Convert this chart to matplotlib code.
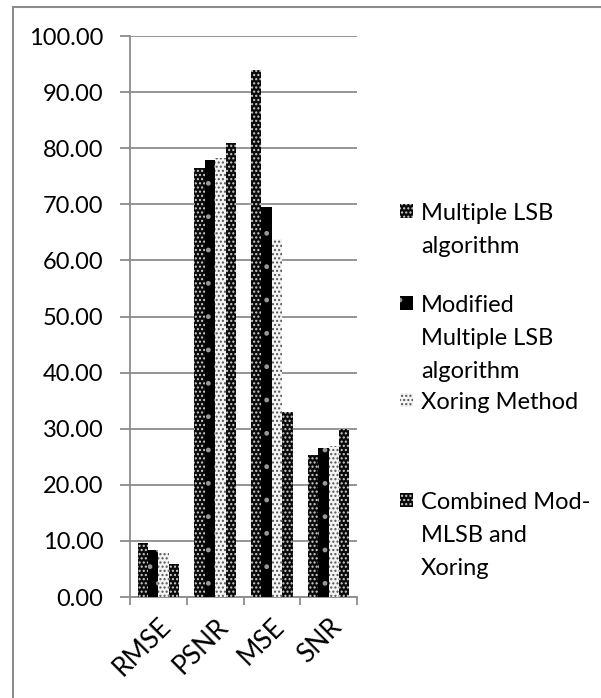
import numpy as np
import matplotlib
matplotlib.use("Agg")
import matplotlib.pyplot as plt
from matplotlib.patches import Rectangle

plt.rcParams['font.family'] = ['Lato', 'DejaVu Sans']
plt.rcParams['hatch.linewidth'] = 1.0

# data
metrics = ['RMSE', 'PSNR', 'MSE', 'SNR']
multiple_lsb = [9.7, 76.5, 93.9, 25.3]
modified_mlsb = [8.3, 77.9, 69.6, 26.5]
xoring = [7.9, 78.3, 63.9, 27.0]
combined = [5.8, 81.0, 32.9, 29.9]
series_labels = ['Multiple LSB\nalgorithm',
                 'Modified\nMultiple LSB\nalgorithm',
                 'Xoring Method',
                 'Combined Mod-\nMLSB and\nXoring']
yticks = np.arange(0, 101, 10)

# fill / hatch per series (look of the Excel patterns)
styles = [
    dict(facecolor='#0a0a0a', edgecolor='#d0d0d0', hatch='....'),
    dict(facecolor='black', edgecolor='#999999', hatch='.'),
    dict(facecolor='#f4f4f4', edgecolor='#555555', hatch='....'),
    dict(facecolor='#0a0a0a', edgecolor='#d0d0d0', hatch='....'),
]

fig = plt.figure(figsize=(6.01, 6.98), dpi=100)
ax = fig.add_axes([130/601, 101/698, 227/601, 561/698])

x = np.arange(len(metrics))
w = 0.183
all_series = [multiple_lsb, modified_mlsb, xoring, combined]
for i, vals in enumerate(all_series):
    off = (i - 1.5) * w
    ax.bar(x + off, vals, w, linewidth=0, zorder=3, **styles[i])

ax.set_xlim(-0.5, 3.5)
ax.set_ylim(0, 100)
ax.set_yticks(yticks)
ax.set_yticklabels(['%.2f' % v for v in yticks], fontsize=17)
ax.yaxis.grid(True, color='#8c8c8c', linewidth=1.3, zorder=0)

# category boundaries carry the ticks, labels sit in the middle
ax.set_xticks(np.arange(-0.5, 4, 1))
ax.set_xticklabels([])
ax.set_xticks(x, minor=True)
ax.set_xticklabels(metrics, minor=True, rotation=45, ha='right',
                   rotation_mode='anchor', fontsize=19)
ax.tick_params(axis='x', which='minor', length=0, pad=12)
ax.tick_params(axis='x', which='major', length=6, color='#8c8c8c', width=1.3)
ax.tick_params(axis='y', length=7, color='#8c8c8c', width=1.3, pad=12)

for s in ['top', 'right']:
    ax.spines[s].set_visible(False)
for s in ['left', 'bottom']:
    ax.spines[s].set_color('#8c8c8c')
    ax.spines[s].set_linewidth(1.3)

# legend drawn by hand to mimic Excel's wrapped entries
entry_y = [211, 303, 400, 500]
for lab, st, yy in zip(series_labels, styles, entry_y):
    r = Rectangle((400/601, 1 - (yy + 7)/698), 13/601, 14/698,
                  transform=fig.transFigure, linewidth=0, **st)
    fig.patches.append(r)
    fig.text(421/601, 1 - (yy - 8)/698, lab, fontsize=17, va='top', ha='left',
             linespacing=1.7)

# outer chart border (cropped at right and bottom)
fig.add_artist(plt.Line2D([13/601, 13/601], [0, 1 - 6.5/698],
                          transform=fig.transFigure, color='#8c8c8c', lw=1.5))
fig.add_artist(plt.Line2D([13/601, 1], [1 - 6.5/698, 1 - 6.5/698],
                          transform=fig.transFigure, color='#8c8c8c', lw=1.5))

fig.savefig('out.png', dpi=100)
